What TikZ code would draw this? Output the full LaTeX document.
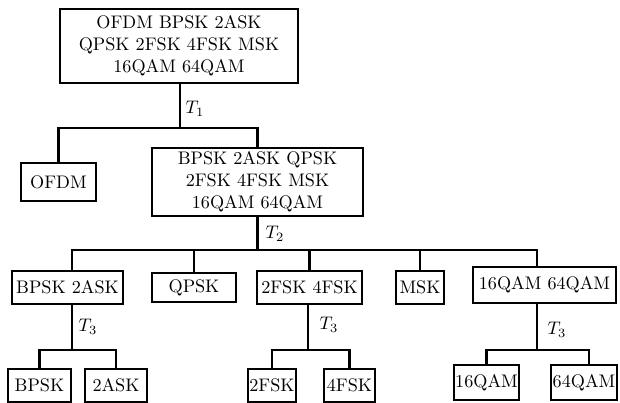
\documentclass[tikz,border=0pt]{standalone}
\begin{document}
\begin{tikzpicture}[x=0.55pt,y=-0.55pt,
  box/.style={draw,line width=1.1pt,rectangle,inner sep=0pt,align=center,font=\normalsize},
  conn/.style={line width=1.2pt},
  lab/.style={inner sep=0pt}]
\useasboundingbox (0,0) rectangle (620,403);
% nodes
\node[box,minimum width=238*0.55pt,minimum height=74*0.55pt] (top) at (179,46) {OFDM BPSK 2ASK\\QPSK 2FSK 4FSK MSK\\16QAM 64QAM};
\node[box,minimum width=75*0.55pt,minimum height=38*0.55pt] (ofdm) at (58.5,182) {OFDM};
\node[box,minimum width=211*0.55pt,minimum height=68*0.55pt] (mid) at (257.5,182) {BPSK 2ASK QPSK\\2FSK 4FSK MSK\\16QAM 64QAM};
\node[box,minimum width=111*0.55pt,minimum height=33*0.55pt] (l2a) at (67.5,287.5) {BPSK 2ASK};
\node[box,minimum width=84*0.55pt,minimum height=29*0.55pt] (l2b) at (194,287.5) {QPSK};
\node[box,minimum width=105*0.55pt,minimum height=33*0.55pt] (l2c) at (309.5,287.5) {2FSK 4FSK};
\node[box,minimum width=48*0.55pt,minimum height=33*0.55pt] (l2d) at (420,287.5) {MSK};
\node[box,minimum width=143*0.55pt,minimum height=36*0.55pt] (l2e) at (544.5,285) {16QAM 64QAM};
\node[box,minimum width=63*0.55pt,minimum height=33*0.55pt] (l3a) at (39.5,385.5) {BPSK};
\node[box,minimum width=62*0.55pt,minimum height=33*0.55pt] (l3b) at (116,385.5) {2ASK};
\node[box,minimum width=48*0.55pt,minimum height=33*0.55pt] (l3c) at (272,385.5) {2FSK};
\node[box,minimum width=51*0.55pt,minimum height=33*0.55pt] (l3d) at (349.5,385.5) {4FSK};
\node[box,minimum width=65*0.55pt,minimum height=35*0.55pt] (l3e) at (486.5,382.5) {16QAM};
\node[box,minimum width=66*0.55pt,minimum height=35*0.55pt] (l3f) at (584,382.5) {64QAM};
% labels
\node[lab] (t1) at (195,109) {$T_1$};
\node[lab] (t2) at (275,234) {$T_2$};
\node[lab] (t3a) at (88,327) {$T_3$};
\node[lab] (t3b) at (329,325) {$T_3$};
\node[lab] (t3c) at (557,330) {$T_3$};
% level 1
\coordinate (b1) at (180,128);
\draw[conn] (top.south -| b1) -- (b1);
\draw[conn] (ofdm.north) -- (ofdm.north |- b1) -- (mid.north |- b1) -- (mid.north);
% level 2
\coordinate (b2) at (257.5,250);
\coordinate (d2a) at (72,250);
\coordinate (d2e) at (537,250);
\draw[conn] (mid.south) -- (b2);
\draw[conn] (d2a |- l2a.north) -- (d2a) -- (d2e) -- (d2e |- l2e.north);
\draw[conn] (l2b.north) -- (l2b.north |- b2);
\draw[conn] (l2c.north) -- (l2c.north |- b2);
\draw[conn] (l2d.north) -- (l2d.north |- b2);
% level 3 left
\coordinate (b3a) at (72,350);
\draw[conn] (b3a |- l2a.south) -- (b3a);
\draw[conn] (l3a.north) -- (l3a.north |- b3a) -- (l3b.north |- b3a) -- (l3b.north);
% level 3 middle
\coordinate (b3b) at (308,350);
\draw[conn] (b3b |- l2c.south) -- (b3b);
\draw[conn] (l3c.north) -- (l3c.north |- b3b) -- (l3d.north |- b3b) -- (l3d.north);
% level 3 right
\coordinate (b3c) at (537,350);
\coordinate (d3f) at (589,350);
\draw[conn] (b3c |- l2e.south) -- (b3c);
\draw[conn] (l3e.north) -- (l3e.north |- b3c) -- (d3f) -- (d3f |- l3f.north);
\end{tikzpicture}
\end{document}
